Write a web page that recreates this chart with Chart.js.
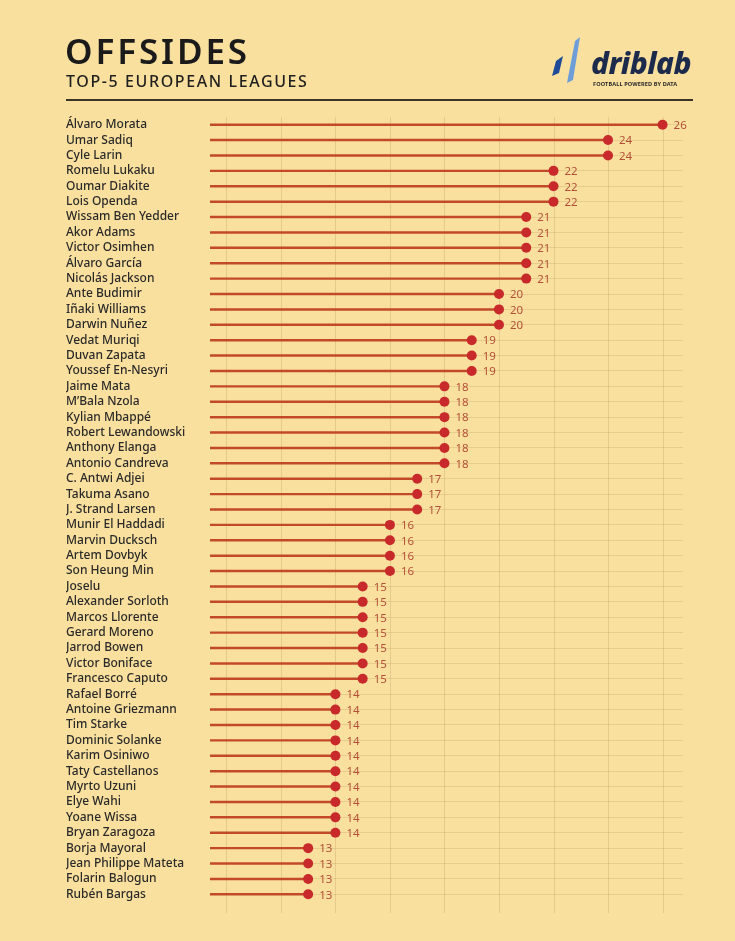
<!DOCTYPE html>
<html>
<head>
<meta charset="utf-8">
<script src="https://cdn.jsdelivr.net/npm/chart.js@4"></script>
<style>
  html, body { margin: 0; padding: 0; }
  body { width: 735px; height: 941px; background: #f9e09e; position: relative; overflow: hidden; font-family: "Noto Sans", sans-serif; }
  #chart { position: absolute; left: 0; top: 0; }
  .title { position: absolute; left: 65px; top: 31px; font-size: 35px; line-height: 40px; font-weight: 600; color: #1a1a1a; letter-spacing: 2.9px; }
  .subtitle { position: absolute; left: 66px; top: 70px; font-size: 16px; line-height: 22px; font-weight: 500; color: #1f1f1f; letter-spacing: 1.6px; }
  .rule { position: absolute; left: 66px; top: 99px; width: 627px; height: 1.5px; background: #3b3426; }
  .logo-text { position: absolute; left: 591px; top: 42px; font-size: 30px; font-weight: 800; font-style: italic; color: #1c2a4c; letter-spacing: -0.5px; }
  .logo-sub { position: absolute; left: 593px; top: 80px; font-size: 5.6px; font-weight: 700; color: #2a2a2a; letter-spacing: 0.1px; }
  .logo-mark { position: absolute; left: 550px; top: 34px; }
</style>
</head>
<body>
<canvas id="chart" width="735" height="941"></canvas>
<div class="title">OFFSIDES</div>
<div class="subtitle">TOP-5 EUROPEAN LEAGUES</div>
<div class="rule"></div>
<svg class="logo-mark" width="40" height="52" viewBox="0 0 40 52">
  <polygon points="2,42 9,39 13,22 6,27" fill="#1f4c98"/>
  <polygon points="17,49 23,46 30,3 25,7" fill="#6d9ed8"/>
</svg>
<div class="logo-text">driblab</div>
<div class="logo-sub">FOOTBALL POWERED BY DATA</div>
<script>
  'use strict';

  var players = [
    'Álvaro Morata', 'Umar Sadiq', 'Cyle Larin', 'Romelu Lukaku', 'Oumar Diakite',
    'Lois Openda', 'Wissam Ben Yedder', 'Akor Adams', 'Victor Osimhen', 'Álvaro García',
    'Nicolás Jackson', 'Ante Budimir', 'Iñaki Williams', 'Darwin Nuñez', 'Vedat Muriqi',
    'Duvan Zapata', 'Youssef En-Nesyri', 'Jaime Mata', 'M\u2019Bala Nzola', 'Kylian Mbappé',
    'Robert Lewandowski', 'Anthony Elanga', 'Antonio Candreva', 'C. Antwi Adjei', 'Takuma Asano',
    'J. Strand Larsen', 'Munir El Haddadi', 'Marvin Ducksch', 'Artem Dovbyk', 'Son Heung Min',
    'Joselu', 'Alexander Sorloth', 'Marcos Llorente', 'Gerard Moreno', 'Jarrod Bowen',
    'Victor Boniface', 'Francesco Caputo', 'Rafael Borré', 'Antoine Griezmann', 'Tim Starke',
    'Dominic Solanke', 'Karim Osiniwo', 'Taty Castellanos', 'Myrto Uzuni', 'Elye Wahi',
    'Yoane Wissa', 'Bryan Zaragoza', 'Borja Mayoral', 'Jean Philippe Mateta', 'Folarin Balogun',
    'Rubén Bargas'
  ];

  var offsides = [
    26, 24, 24, 22, 22,
    22, 21, 21, 21, 21,
    21, 20, 20, 20, 19,
    19, 19, 18, 18, 18,
    18, 18, 18, 17, 17,
    17, 16, 16, 16, 16,
    15, 15, 15, 15, 15,
    15, 15, 14, 14, 14,
    14, 14, 14, 14, 14,
    14, 14, 13, 13, 13,
    13
  ];

  var gridTicks = [10, 12, 14, 16, 18, 20, 22, 24, 26];

  // vertical guides run a little past the last row, as in the original
  var verticalGrid = {
    id: 'verticalGrid',
    beforeDatasetsDraw: function (chart) {
      var ctx = chart.ctx;
      var xs = chart.scales.x;
      var area = chart.chartArea;
      ctx.save();
      ctx.strokeStyle = 'rgba(190,160,105,0.35)';
      ctx.lineWidth = 1;
      gridTicks.forEach(function (v) {
        var x = Math.round(xs.getPixelForValue(v)) + 0.5;
        ctx.beginPath();
        ctx.moveTo(x, area.top);
        ctx.lineTo(x, area.bottom + 11);
        ctx.stroke();
      });
      ctx.restore();
    }
  };

  // value labels next to each dot
  var valueLabels = {
    id: 'valueLabels',
    afterDatasetsDraw: function (chart) {
      var ctx = chart.ctx;
      var meta = chart.getDatasetMeta(1);
      ctx.save();
      ctx.font = '400 11.5px "Noto Sans"';
      ctx.fillStyle = '#b4503a';
      ctx.textAlign = 'left';
      ctx.textBaseline = 'middle';
      meta.data.forEach(function (pt, i) {
        ctx.fillText(String(offsides[i]), pt.x + 11, pt.y + 1);
      });
      ctx.restore();
    }
  };

  var ctx = document.getElementById('chart');
  var chart = new Chart(ctx, {
    type: 'bar',
    data: {
      labels: players,
      datasets: [{
        data: offsides,
        backgroundColor: '#c24a2a',
        barThickness: 1.8,
        order: 2
      }, {
        type: 'line',
        indexAxis: 'y',
        data: offsides,
        showLine: false,
        pointRadius: 5,
        pointHoverRadius: 5,
        pointBackgroundColor: '#c8292a',
        pointBorderWidth: 0,
        order: 1
      }]
    },
    options: {
      indexAxis: 'y',
      responsive: false,
      animation: false,
      events: [],
      layout: { padding: { top: 117, bottom: 39, left: 66, right: 52 } },
      plugins: { legend: { display: false }, tooltip: { enabled: false } },
      scales: {
        x: {
          display: false,
          min: 9.4,
          max: 26.75
        },
        y: {
          afterFit: function (scale) { scale.width = 144; },
          ticks: {
            crossAlign: 'far',
            color: '#2a2a2a',
            font: { family: '"Noto Sans"', size: 12, weight: 500 },
            autoSkip: false
          },
          grid: { color: 'rgba(190,160,105,0.3)', drawTicks: false, offset: false },
          border: { display: false }
        }
      }
    },
    plugins: [verticalGrid, valueLabels]
  });
</script>
</body>
</html>
